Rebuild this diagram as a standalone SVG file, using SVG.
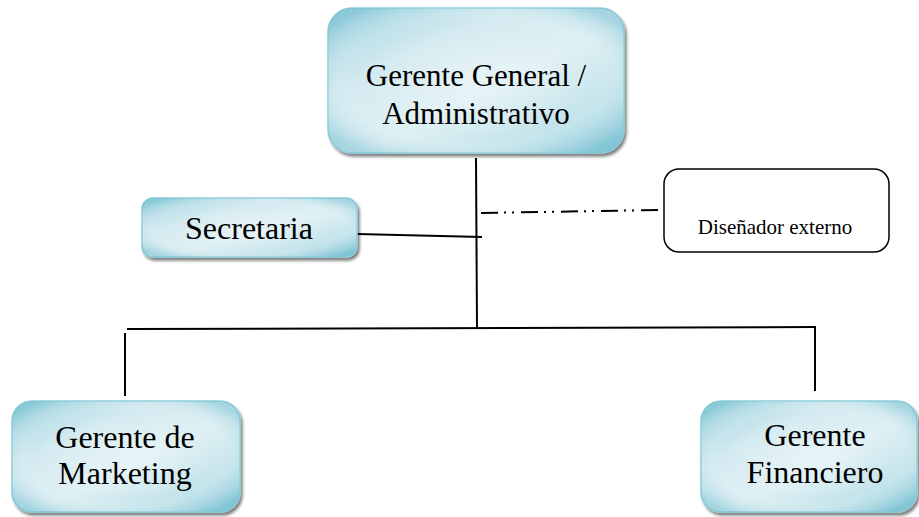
<svg xmlns="http://www.w3.org/2000/svg" width="919" height="517" viewBox="0 0 919 517">
  <defs>
    <linearGradient id="fill" x1="0" y1="0" x2="1" y2="1">
      <stop offset="0" stop-color="#9fd3df"/>
      <stop offset="0.3" stop-color="#d3eaf0"/>
      <stop offset="0.55" stop-color="#dff0f4"/>
      <stop offset="0.8" stop-color="#c2e3ea"/>
      <stop offset="1" stop-color="#88c8d7"/>
    </linearGradient>
    <radialGradient id="glow" cx="0.5" cy="0.5" r="0.62">
      <stop offset="0" stop-color="#ffffff" stop-opacity="0.3"/>
      <stop offset="0.65" stop-color="#ffffff" stop-opacity="0"/>
      <stop offset="1" stop-color="#6fbcce" stop-opacity="0.5"/>
    </radialGradient>
    <filter id="shadow" x="-10%" y="-10%" width="120%" height="130%">
      <feGaussianBlur in="SourceAlpha" stdDeviation="1.5"/>
      <feOffset dx="2" dy="3" result="b"/>
      <feComponentTransfer><feFuncA type="linear" slope="0.5"/></feComponentTransfer>
      <feMerge><feMergeNode/><feMergeNode in="SourceGraphic"/></feMerge>
    </filter>
  </defs>
  <style>
    .box { fill: url(#fill); stroke: #8fcddb; stroke-width: 1.5; filter: url(#shadow); }
    .glow { fill: url(#glow); stroke: none; }
    .t { font-family: "Liberation Serif", "Times New Roman", serif; fill: #000; text-anchor: middle; }
    .line { stroke: #000; stroke-width: 2; fill: none; }
  </style>
  <rect width="919" height="517" fill="#ffffff"/>

  <g id="connectors">
    <line class="line" x1="476" y1="158" x2="477" y2="328"/>
    <line class="line" x1="357" y1="234" x2="482" y2="237"/>
    <line class="line" x1="481" y1="213" x2="658" y2="210" stroke-dasharray="17 6 2 6 2 7"/>
    <line class="line" x1="127" y1="329" x2="816" y2="327"/>
    <line class="line" x1="125" y1="333" x2="125" y2="396"/>
    <line class="line" x1="815" y1="327" x2="815" y2="391"/>
  </g>

  <g id="gerente-general">
    <rect class="box" x="328" y="8" width="296" height="145" rx="24"/>
    <rect class="glow" x="328" y="8" width="296" height="145" rx="24"/>
    <text class="t" x="476" y="86" font-size="31">Gerente General /</text>
    <text class="t" x="476" y="124" font-size="31">Administrativo</text>
  </g>

  <g id="secretaria">
    <rect class="box" x="142" y="198" width="215" height="59" rx="11"/>
    <rect class="glow" x="142" y="198" width="215" height="59" rx="11"/>
    <text class="t" x="249" y="239" font-size="32">Secretaria</text>
  </g>

  <g id="disenador-externo">
    <rect x="664" y="169" width="225" height="83" rx="15" fill="#ffffff" stroke="#000" stroke-width="1.5"/>
    <text class="t" x="775" y="234" font-size="21">Diseñador externo</text>
  </g>

  <g id="gerente-marketing">
    <rect class="box" x="12" y="401" width="228" height="111" rx="20"/>
    <rect class="glow" x="12" y="401" width="228" height="111" rx="20"/>
    <text class="t" x="125" y="448" font-size="32">Gerente de</text>
    <text class="t" x="125" y="484" font-size="32">Marketing</text>
  </g>

  <g id="gerente-financiero">
    <rect class="box" x="701" y="401" width="216" height="111" rx="20"/>
    <rect class="glow" x="701" y="401" width="216" height="111" rx="20"/>
    <text class="t" x="815" y="446" font-size="32">Gerente</text>
    <text class="t" x="815" y="483" font-size="32">Financiero</text>
  </g>
</svg>
